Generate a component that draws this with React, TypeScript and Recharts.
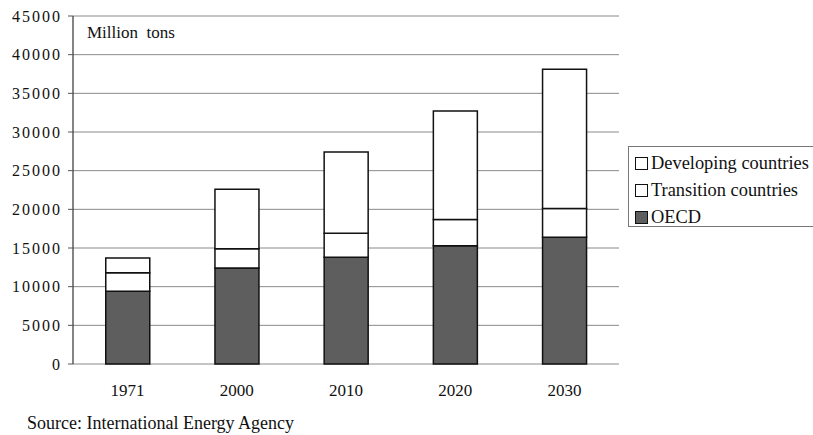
import React from 'react';
import { BarChart, Bar, XAxis, YAxis, CartesianGrid } from 'recharts';

const years = ['1971', '2000', '2010', '2020', '2030'];
const oecd = [9400, 12400, 13800, 15300, 16400];
const transition = [2400, 2500, 3100, 3400, 3700];
const developing = [1900, 7700, 10500, 14000, 18000];
const yTicks = [0, 5000, 10000, 15000, 20000, 25000, 30000, 35000, 40000, 45000];
const boundaryTicks = [0, 1, 2, 3, 4, 5];

const data = years.map((year, i) => ({
  year,
  oecd: oecd[i],
  transition: transition[i],
  developing: developing[i],
}));

const FONT = "'Liberation Serif', 'DejaVu Serif', serif";

const legendItems = [
  { label: 'Developing countries', fill: '#ffffff' },
  { label: 'Transition countries', fill: '#ffffff' },
  { label: 'OECD', fill: '#5e5e5e' },
];

export default function App() {
  return (
    <div style={{ position: 'absolute', left: 0, top: 0, width: 813, height: 435, background: '#fff', overflow: 'hidden' }}>
      <BarChart
        width={813}
        height={435}
        data={data}
        margin={{ top: 16, right: 194, left: 0, bottom: 31 }}
        barCategoryGap="30%"
      >
        <CartesianGrid vertical={false} stroke="#8a8a8a" strokeWidth={1} />
        <XAxis
          xAxisId="bounds"
          type="number"
          domain={[0, 5]}
          ticks={boundaryTicks}
          height={0}
          axisLine={{ stroke: '#333', strokeWidth: 1.2 }}
          tickLine={{ stroke: '#333' }}
          tickSize={6}
          tickFormatter={() => ''}
        />
        <XAxis
          dataKey="year"
          height={40}
          axisLine={false}
          tickLine={false}
          tick={{ fontFamily: FONT, fontSize: 17, fill: '#111' }}
          tickMargin={14}
        />
        <YAxis
          width={73}
          domain={[0, 45000]}
          ticks={yTicks}
          interval={0}
          axisLine={{ stroke: '#333', strokeWidth: 1.2 }}
          tickLine={{ stroke: '#555' }}
          tickSize={5}
          tick={{ fontFamily: FONT, fontSize: 16, fill: '#111', letterSpacing: 2 }}
          tickMargin={6}
        />
        <YAxis
          yAxisId="frame"
          orientation="right"
          width={0}
          domain={[0, 45000]}
          ticks={yTicks}
          tick={false}
          tickLine={false}
          axisLine={{ stroke: '#8a8a8a' }}
        />
        <Bar dataKey="oecd" stackId="a" fill="#5e5e5e" stroke="#111" strokeWidth={1.5} isAnimationActive={false} />
        <Bar dataKey="transition" stackId="a" fill="#ffffff" stroke="#111" strokeWidth={1.5} isAnimationActive={false} />
        <Bar dataKey="developing" stackId="a" fill="#ffffff" stroke="#111" strokeWidth={1.5} isAnimationActive={false} />
        <text x={87} y={38} fontFamily={FONT} fontSize={17} fill="#111" style={{ whiteSpace: 'pre' }}>
          Million  tons
        </text>
        <text x={27} y={429} fontFamily={FONT} fontSize={18} fill="#111">
          Source: International Energy Agency
        </text>
      </BarChart>
      <div
        style={{
          position: 'absolute',
          left: 628,
          top: 146,
          width: 200,
          height: 81,
          border: '1px solid #777',
          padding: '3px 0 0 6px',
          boxSizing: 'border-box',
          fontFamily: FONT,
          fontSize: 18.4,
          color: '#111',
          lineHeight: '27px',
          whiteSpace: 'nowrap',
        }}
      >
        {legendItems.map((item) => (
          <div key={item.label} style={{ display: 'flex', alignItems: 'center' }}>
            <span
              style={{
                display: 'inline-block',
                width: 11,
                height: 11,
                border: '1.5px solid #111',
                background: item.fill,
                marginRight: 3,
              }}
            />
            {item.label}
          </div>
        ))}
      </div>
    </div>
  );
}
